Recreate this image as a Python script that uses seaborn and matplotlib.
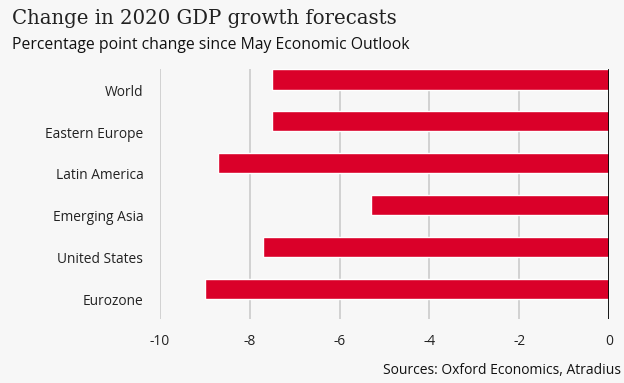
import matplotlib
matplotlib.use("Agg")
import matplotlib.pyplot as plt
import seaborn as sns
import pandas as pd

regions = ["World", "Eastern Europe", "Latin America", "Emerging Asia",
           "United States", "Eurozone"]
changes = [-7.5, -7.5, -8.7, -5.3, -7.7, -9.0]
x_ticks = [-10, -8, -6, -4, -2, 0]

BG = "#f7f7f7"
RED = "#da0029"

sns.set_theme(style="white")
plt.rcParams["font.family"] = ["Open Sans", "DejaVu Sans"]

df = pd.DataFrame({"region": regions, "change": changes})

fig = plt.figure(figsize=(6.24, 3.83), dpi=100, facecolor=BG)
ax = fig.add_axes([160 / 624, 1 - 319 / 383, 449 / 624, 250 / 383])
ax.set_facecolor(BG)

sns.barplot(data=df, x="change", y="region", orient="h", color=RED,
            saturation=1, width=0.49, ax=ax, order=regions)

ax.set_xlim(-10, 0)
ax.set_ylim(5.72, -0.245)
ax.set_xticks(x_ticks)
ax.set_xticklabels([str(t) for t in x_ticks])
# category labels sit slightly below each bar's centre
ax.set_yticks([i + 0.26 for i in range(len(regions))])
ax.set_yticklabels(regions)
for t in x_ticks[:-1]:
    ax.axvline(t, color="#cfcfcf", lw=1.3, zorder=0)
ax.axvline(0, color="black", lw=2, zorder=3)

for s in ax.spines.values():
    s.set_visible(False)
ax.set_xlabel("")
ax.set_ylabel("")
ax.tick_params(axis="both", length=0, labelsize=9.9, colors="#222222")
ax.tick_params(axis="x", pad=11)
ax.tick_params(axis="y", pad=12)

fig.text(12 / 624, 1 - 19 / 383, "Change in 2020 GDP growth forecasts",
         family=["DejaVu Serif"], fontsize=14.2, color="#222222", va="center")
fig.text(12 / 624, 1 - 45 / 383, "Percentage point change since May Economic Outlook",
         fontsize=11.3, color="#111111", va="center")
fig.text(621 / 624, 1 - 371 / 383, "Sources: Oxford Economics, Atradius",
         fontsize=10.0, color="#111111", va="center", ha="right")

fig.savefig("out.png", dpi=100, facecolor=BG)
